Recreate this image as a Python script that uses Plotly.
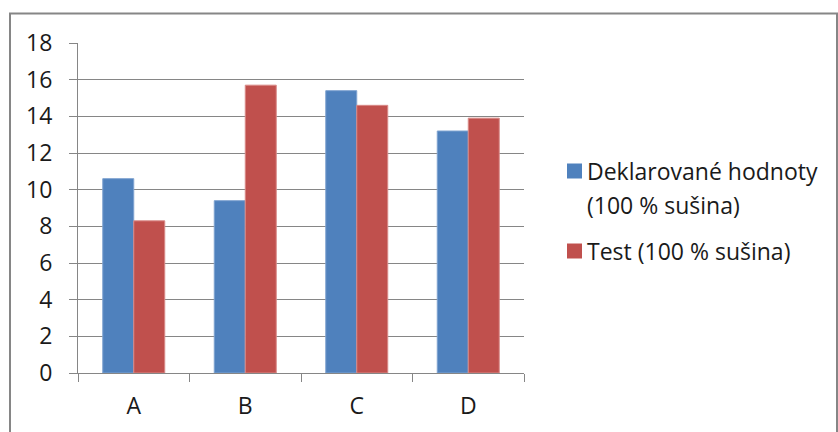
import plotly.graph_objects as go

categories = ["A", "B", "C", "D"]
deklarovane = [10.6, 9.4, 15.4, 13.2]
test = [8.3, 15.7, 14.6, 13.9]
series_names = ["Deklarované hodnoty", "Test (100 % sušina)"]
series_name_second_line = "(100 % sušina)"
colors = ["#4F81BD", "#C0504D"]
edge_colors = ["#7FA3D0", "#D98A88"]
y_ticks = [0, 2, 4, 6, 8, 10, 12, 14, 16, 18]

W, H = 838, 432
L, R, T, B = 78, 314, 43, 59
pw = W - L - R
ph = H - T - B

def px_x(px):
    return (px - L) / pw

def px_y(py):
    return (H - B - py) / ph

FONT = "Open Sans"
SIZE = 23
GRAY = "#868686"
TEXT = "#1a1a1a"

fig = go.Figure()
fig.add_trace(go.Bar(x=categories, y=deklarovane,
                     name=series_names[0] + " " + series_name_second_line,
                     marker=dict(color=colors[0], line=dict(color=edge_colors[0], width=1))))
fig.add_trace(go.Bar(x=categories, y=test, name=series_names[1],
                     marker=dict(color=colors[1], line=dict(color=edge_colors[1], width=1))))

# chart border and legend swatches
swatch_y = [171, 251]
shapes = [dict(type="rect", xref="paper", yref="paper",
               x0=px_x(10), x1=px_x(837), y0=px_y(445), y1=px_y(13.5),
               line=dict(color=GRAY, width=2), fillcolor="rgba(0,0,0,0)", layer="below")]
for c, yc in zip(colors, swatch_y):
    shapes.append(dict(type="rect", xref="paper", yref="paper",
                       x0=px_x(567), x1=px_x(582), y0=px_y(yc + 7.5), y1=px_y(yc - 7.5),
                       line=dict(width=0), fillcolor=c))

legend_text = [(series_names[0], 171), (series_name_second_line, 205), (series_names[1], 251)]
annotations = [dict(text=t, xref="paper", yref="paper", x=px_x(585), y=px_y(yc),
                    xanchor="left", yanchor="middle", showarrow=False,
                    font=dict(family=FONT, size=SIZE, color=TEXT))
               for t, yc in legend_text]

fig.update_layout(
    width=W, height=H,
    margin=dict(l=L, r=R, t=T, b=B, autoexpand=False),
    paper_bgcolor="white", plot_bgcolor="white",
    barmode="group", bargap=0.444, bargroupgap=0,
    font=dict(family=FONT, size=SIZE, color=TEXT),
    showlegend=False,
    xaxis=dict(showline=True, linecolor=GRAY, linewidth=1,
               ticks="outside", ticklen=8, tickcolor=GRAY, tickson="boundaries",
               showgrid=False, tickfont=dict(size=SIZE), ticklabelstandoff=12),
    yaxis=dict(range=[0, 18], tickvals=y_ticks, showline=True, linecolor=GRAY, linewidth=1,
               ticks="outside", ticklen=8, tickcolor=GRAY,
               showgrid=True, gridcolor=GRAY, gridwidth=1, zeroline=False,
               tickfont=dict(size=SIZE), ticklabelstandoff=12),
    shapes=shapes,
    annotations=annotations,
)

fig.write_html("out.html")
